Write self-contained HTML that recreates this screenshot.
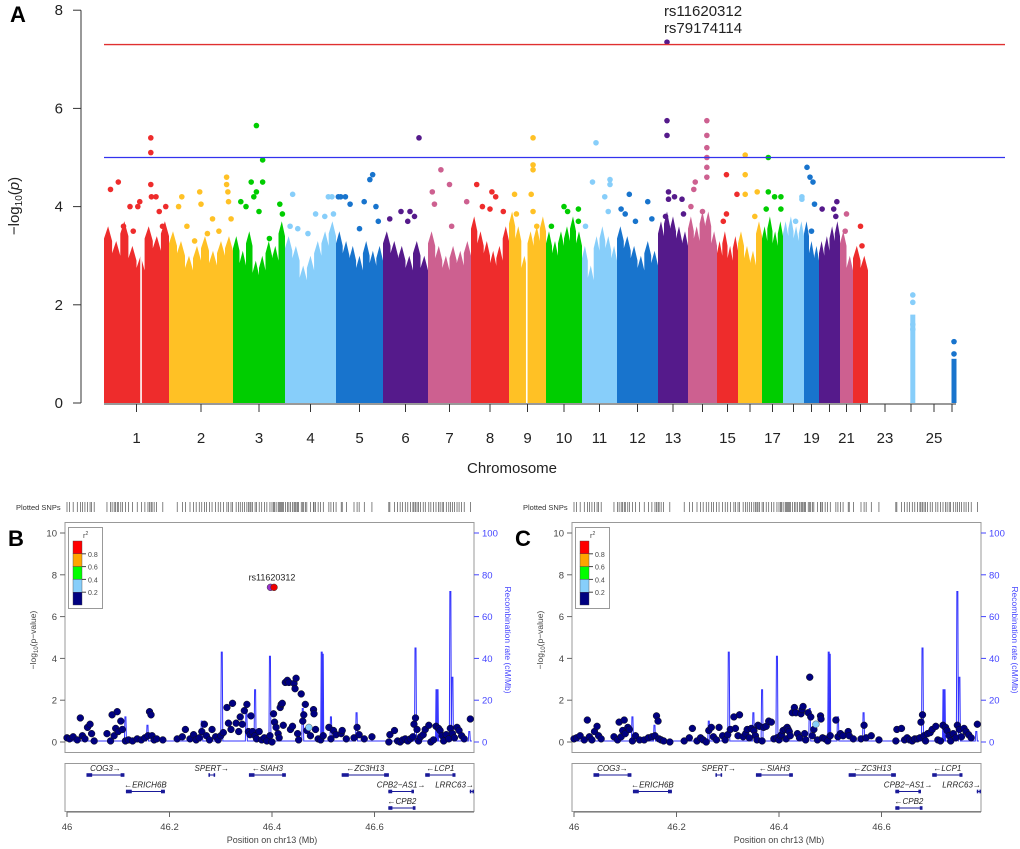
<!DOCTYPE html>
<html><head><meta charset="utf-8"><style>
html,body{margin:0;padding:0;background:#fff;}
svg{display:block;font-family:"Liberation Sans",Arial,sans-serif;}
</style></head><body>
<svg id="fig" width="1020" height="849" viewBox="0 0 1020 849" xmlns="http://www.w3.org/2000/svg">
<rect width="1020" height="849" fill="#fff"/>
<g id="panelA"></g>
<g id="panelB"></g>
<g id="panelC"></g>
</svg>
<script>
// ===== Panel A data =====
const chrNames = ["1","2","3","4","5","6","7","8","9","10","11","12","13","14","15","16","17","18","19","20","21","22","23","24","25","26"];
const chrLenMb = [260,256,208,204,188,180,172,152,148,144,140,164,120,116,84,96,84,84,60,84,52,60,136,72,112,32];
const chrTop = [
[3.6,3.3,3.7,3.2,3.0,3.6,3.4,3.7],[3.5,3.3,3.0,3.2,3.4,3.1,3.3,3.4],[3.4,3.1,3.5,2.9,3.0,3.3,3.2,3.7],
[3.4,3.2,2.8,3.0,3.3,3.5,3.7],[3.5,3.3,3.2,3.0,3.3,3.1,3.2],[3.5,3.3,3.2,3.0,3.3,3.0],[3.5,3.2,3.0,3.2,3.1,3.3],
[3.8,3.5,3.3,3.1,3.2,3.6],[3.9,3.6,3.0,3.5,3.6,3.8],[3.5,3.3,3.5,3.6,3.8,3.5],[3.2,2.8,3.4,3.6,3.4,3.2],
[3.6,3.4,3.2,3.0,3.3,3.1],[3.7,3.9,3.8,3.6,3.5],[3.8,3.6,3.9,3.9,3.5],[3.3,3.5,3.2,3.4],[3.5,3.2,3.1,3.7],
[3.6,3.8,3.5,3.7],[3.7,3.8,3.6,3.7],[3.7,3.3,3.2],[3.3,3.4,3.6,3.7],[3.5,3.0],[3.2,3.0],[],[1.8],[],[0.9]];
const chrColFrac = [null,null,null,null,null,null,null,null,null,null,null,null,null,null,null,null,null,null,null,null,null,null,null,0.6,null,0.75];
const chrGaps = [[0,0.57],[8,0.48]];
const yTicksA = [0,2,4,6,8];
const xLabelShown = ["1","2","3","4","5","6","7","8","9","10","11","12","13","15","17","19","21","23","25"];
const suggestiveLine = 5;
const genomeLine = 7.3;
// [chromosome index, fraction along chromosome, -log10 p]
const aPoints = [
[0,0.1,4.35],[0,0.22,4.5],[0,0.3,3.6],[0,0.4,4.0],[0,0.45,3.5],[0,0.55,4.1],[0,0.52,4.0],[0,0.72,5.4],[0,0.72,5.1],[0,0.72,4.45],[0,0.73,4.2],[0,0.8,4.2],[0,0.85,3.9],[0,0.95,4.0],[0,0.9,3.6],
[1,0.15,4.0],[1,0.2,4.2],[1,0.28,3.6],[1,0.4,3.3],[1,0.48,4.3],[1,0.5,4.05],[1,0.6,3.45],[1,0.68,3.75],[1,0.78,3.5],[1,0.9,4.6],[1,0.9,4.45],[1,0.92,4.3],[1,0.93,4.1],[1,0.97,3.75],
[2,0.15,4.1],[2,0.25,4.0],[2,0.35,4.5],[2,0.45,5.65],[2,0.45,4.3],[2,0.4,4.2],[2,0.57,4.95],[2,0.57,4.5],[2,0.5,3.9],[2,0.9,4.05],[2,0.95,3.85],[2,0.7,3.35],
[3,0.1,3.6],[3,0.15,4.25],[3,0.25,3.55],[3,0.45,3.45],[3,0.6,3.85],[3,0.78,3.8],[3,0.85,4.2],[3,0.92,4.2],[3,0.95,3.85],
[4,0.05,4.2],[4,0.1,4.2],[4,0.2,4.2],[4,0.3,4.05],[4,0.5,3.55],[4,0.6,4.1],[4,0.72,4.55],[4,0.78,4.65],[4,0.85,4.0],[4,0.9,3.7],
[5,0.15,3.75],[5,0.4,3.9],[5,0.6,3.9],[5,0.7,3.8],[5,0.8,5.4],[5,0.55,3.7],
[6,0.1,4.3],[6,0.15,4.05],[6,0.3,4.75],[6,0.5,4.45],[6,0.55,3.6],[6,0.9,4.1],
[7,0.15,4.45],[7,0.3,4.0],[7,0.5,3.95],[7,0.55,4.3],[7,0.65,4.2],[7,0.85,3.9],
[8,0.15,4.25],[8,0.2,3.85],[8,0.65,5.4],[8,0.65,4.85],[8,0.65,4.75],[8,0.6,4.25],[8,0.65,3.9],[8,0.75,3.6],
[9,0.15,3.6],[9,0.5,4.0],[9,0.6,3.9],[9,0.9,3.95],[9,0.9,3.7],
[10,0.1,3.6],[10,0.3,4.5],[10,0.4,5.3],[10,0.65,4.2],[10,0.8,4.55],[10,0.8,4.45],[10,0.75,3.9],
[11,0.1,3.95],[11,0.2,3.85],[11,0.3,4.25],[11,0.45,3.7],[11,0.75,4.1],[11,0.85,3.75],
[12,0.25,3.8],[12,0.3,7.35],[12,0.3,5.75],[12,0.3,5.45],[12,0.35,4.3],[12,0.35,4.15],[12,0.55,4.2],[12,0.8,4.15],[12,0.85,3.85],
[13,0.1,4.0],[13,0.2,4.35],[13,0.25,4.5],[13,0.65,5.75],[13,0.65,5.45],[13,0.65,5.2],[13,0.65,5.0],[13,0.65,4.8],[13,0.65,4.6],[13,0.5,3.9],
[14,0.3,3.7],[14,0.45,4.65],[14,0.45,3.85],[14,0.95,4.25],
[15,0.3,5.05],[15,0.3,4.65],[15,0.3,4.25],[15,0.8,4.3],[15,0.7,3.8],
[16,0.3,5.0],[16,0.3,4.3],[16,0.2,3.95],[16,0.6,4.2],[16,0.9,4.2],[16,0.9,3.95],
[17,0.9,4.2],[17,0.9,4.15],[17,0.6,3.7],
[18,0.2,4.8],[18,0.4,4.6],[18,0.6,4.5],[18,0.7,4.05],[18,0.5,3.5],
[19,0.15,3.95],[19,0.7,3.95],[19,0.85,4.1],[19,0.8,3.8],
[20,0.5,3.85],[20,0.4,3.5],
[21,0.5,3.6],[21,0.6,3.2],
[23,0.6,2.2],[23,0.6,2.05],[23,0.6,1.6],[23,0.6,1.5],
[25,0.75,1.25],[25,0.75,1.0]
];
const leadLabels = ["rs11620312","rs79174114"];
const chrColors = ["#EE2C2C","#FFC125","#00CD00","#87CEFA","#1874CD","#551A8B","#CD6090"];
function chrColor(i){ if(i===23) return "#87CEFA"; if(i===25) return "#1874CD"; return chrColors[i%7]; }

// ===== Panels B/C data =====
const regPosB = [46.0,46.005,46.012,46.02,46.026,46.03,46.035,46.04,46.045,46.048,46.053,46.078,46.085,46.088,46.092,46.095,46.098,46.1,46.105,46.108,46.114,46.12,46.128,46.137,46.145,46.152,46.158,46.161,46.164,46.166,46.17,46.175,46.187,
46.215,46.225,46.231,46.24,46.247,46.252,46.258,46.263,46.268,46.272,46.278,46.283,46.29,46.295,46.3,46.305,46.312,46.315,46.32,46.323,46.33,46.335,46.338,46.342,46.346,46.351,46.354,46.357,46.359,46.362,46.367,46.37,46.375,46.38,46.385,46.39,46.396,46.4,46.403,46.405,46.408,46.412,46.414,46.416,46.418,46.42,46.422,46.426,46.43,46.433,46.436,46.44,46.443,46.445,46.447,46.45,46.452,46.457,46.46,46.462,46.465,46.468,46.475,46.481,46.482,46.485,46.49,46.495,46.5,46.511,46.515,46.52,46.525,46.535,46.537,46.545,46.56,46.566,46.57,46.58,46.595,
46.628,46.63,46.639,46.645,46.65,46.655,46.66,46.665,46.67,46.675,46.677,46.68,46.683,46.686,46.69,46.695,46.699,46.706,46.71,46.715,46.72,46.725,46.728,46.732,46.735,46.74,46.745,46.748,46.752,46.756,46.761,46.765,46.77,46.775,46.787];
const regValB = [0.2,0.15,0.25,0.1,1.15,0.3,0.15,0.7,0.85,0.4,0.05,0.4,0.05,1.3,0.3,0.65,1.45,0.5,1.0,0.6,0.05,0.1,0.05,0.15,0.1,0.2,0.3,1.45,1.3,0.3,0.1,0.15,0.1,
0.15,0.25,0.6,0.15,0.35,0.1,0.2,0.5,0.85,0.3,0.1,0.6,0.25,0.1,0.3,0.45,1.65,0.9,0.6,1.85,0.9,0.5,1.2,0.85,1.5,1.8,0.5,0.35,1.25,0.5,0.3,0.15,0.5,0.1,0.2,0.05,0.3,0.0,1.35,0.95,0.7,0.4,0.2,1.65,1.8,1.85,0.8,2.85,2.95,2.85,0.6,0.75,2.8,2.55,3.05,0.4,0.1,2.3,1.0,1.3,1.8,0.55,0.3,1.55,1.35,0.6,0.15,0.1,0.3,0.7,0.15,0.55,0.35,0.4,0.55,0.15,0.2,0.7,0.35,0.15,0.25,
0.0,0.35,0.55,0.05,0.0,0.1,0.15,0.05,0.15,0.25,0.85,1.15,0.6,0.05,0.25,0.35,0.6,0.8,0.0,0.1,0.75,0.65,0.55,0.3,0.05,0.35,0.15,0.65,0.4,0.2,0.7,0.55,0.3,0.15,1.1];
const regValC = [0.15,0.2,0.3,0.1,1.05,0.25,0.1,0.5,0.75,0.3,0.15,0.25,0.1,0.95,0.25,0.55,1.05,0.4,0.7,0.6,0.05,0.3,0.1,0.1,0.2,0.25,0.3,1.25,1.0,0.15,0.1,0.05,0.0,
0.05,0.2,0.65,0.05,0.2,0.1,0.0,0.55,0.7,0.25,0.1,0.7,0.3,0.1,0.35,0.6,1.2,0.65,0.3,1.3,0.25,0.4,0.6,0.2,0.65,0.55,0.3,0.1,0.8,0.75,0.05,0.7,0.75,1.0,0.95,0.15,0.2,0.1,0.3,0.35,0.55,0.6,0.15,0.7,0.6,0.5,0.3,1.4,1.65,1.4,0.4,0.2,1.35,1.55,1.7,0.4,0.1,1.4,3.1,1.2,0.3,0.6,0.1,1.25,1.1,0.2,0.15,0.05,0.3,1.05,0.25,0.4,0.3,0.5,0.3,0.15,0.15,0.8,0.2,0.3,0.1,
0.05,0.6,0.65,0.1,0.2,0.1,0.05,0.15,0.15,0.2,0.95,1.3,0.3,0.05,0.4,0.45,0.6,0.75,0.1,0.05,0.8,0.7,0.55,0.3,0.05,0.4,0.2,0.8,0.6,0.25,0.65,0.5,0.35,0.2,0.85];
const leadPos = [46.397,46.404];
const leadVal = [7.4,7.4];
const leadCol = ["#9932CC","#EE0000"];
const lightPosB = 46.472, lightValB = 0.7;
const lightPosC = 46.472, lightValC = 0.85;
const recPos = [46.114,46.157,46.263,46.302,46.35,46.367,46.396,46.46,46.497,46.499,46.515,46.565,46.68,46.721,46.723,46.748,46.752,46.785];
const recRate = [12,8,10,43,14,25,41,16,43,42,12,14,45,25,25,72,31,5];
const regYTicks = [0,2,4,6,8,10];
const recTicks = [0,20,40,60,80,100];
const posTicks = [46,46.2,46.4,46.6];
const geneNames = ["COG3","ERICH6B","SPERT","SIAH3","ZC3H13","LCP1","CPB2-AS1","LRRC63","CPB2"];
const geneStart = [46.038,46.115,46.276,46.355,46.536,46.699,46.627,46.786,46.627];
const geneEnd = [46.112,46.191,46.289,46.427,46.628,46.758,46.677,46.794,46.68];
const geneStrand = [1,-1,1,-1,-1,-1,1,1,-1];
const geneRow = [0,1,0,0,0,0,1,1,2];
const legendBreaks = ["0.8","0.6","0.4","0.2"];
const legendCols = ["#FF0000","#FFA500","#00FF00","#87CEFA","#000080"];

const NS="http://www.w3.org/2000/svg";
function mk(parent,tag,attrs,text){const e=document.createElementNS(NS,tag);for(const k in attrs)e.setAttribute(k,attrs[k]);if(text!==undefined)e.textContent=text;parent.appendChild(e);return e;}

// ===== Draw Panel A =====
(function(){
const g=document.getElementById('panelA');
const x0=104, pxPerMb=0.25, yBase=403, pxPerUnit=49.1;
const yA=v=>yBase-v*pxPerUnit;
const starts=[];let acc=x0;
chrLenMb.forEach(l=>{starts.push(acc);acc+=l*pxPerMb;});
const xA=(i,f)=>starts[i]+f*chrLenMb[i]*pxPerMb;
let t=mk(g,'text',{x:10,y:22,'font-size':22,'font-weight':'bold'},'A');

let ax=mk(g,'line',{x1:81,x2:81,y1:yA(0),y2:yA(8),stroke:'#333','stroke-width':1});

yTicksA.forEach(v=>{
 mk(g,'line',{x1:73,x2:81,y1:yA(v),y2:yA(v),stroke:'#333'});
 const l=mk(g,'text',{x:63,y:yA(v)+5,'font-size':15,'text-anchor':'end',fill:'#222'},String(v));
 
});
const yt=mk(g,'text',{x:0,y:0,'font-size':15,'text-anchor':'middle',transform:'translate(19,206) rotate(-90)',fill:'#222'});

yt.innerHTML='\u2212log<tspan font-size="10" dy="3">10</tspan><tspan dy="-3">(</tspan><tspan font-style="italic">p</tspan>)';
chrNames.forEach((n,i)=>{
 const tops=chrTop[i];
 if(!tops.length) return;
 if(chrColFrac[i]!==null){
  const r=mk(g,'rect',{x:xA(i,chrColFrac[i])-2.5,y:yA(tops[0]),width:5,height:tops[0]*pxPerUnit,fill:chrColor(i)});
  
  return;
 }
 let pts=[[xA(i,0),yA(0)]];
 const k=tops.length;
 tops.forEach((v,j)=>{
  const f0=j/k, f1=(j+1)/k;
  pts.push([xA(i,f0),yA(v-0.25)]);
  pts.push([xA(i,(f0+f1)/2),yA(v)]);
  pts.push([xA(i,f1),yA(v-0.3)]);
 });
 pts.push([xA(i,1),yA(0)]);
 const p=mk(g,'polygon',{points:pts.map(q=>q[0].toFixed(1)+','+q[1].toFixed(1)).join(' '),fill:chrColor(i)});
 
});
chrGaps.forEach(gp=>{mk(g,'rect',{x:xA(gp[0],gp[1])-0.8,y:yA(3.0),width:1.6,height:3.0*pxPerUnit,fill:'#fff'});});
aPoints.forEach(p=>{
 const c=mk(g,'circle',{cx:xA(p[0],p[1]),cy:yA(p[2]),r:2.8,fill:chrColor(p[0])});
 
});
let rl=mk(g,'line',{x1:104,x2:1005,y1:yA(genomeLine),y2:yA(genomeLine),stroke:'#E03030','stroke-width':1.3});

let bl=mk(g,'line',{x1:104,x2:1005,y1:yA(suggestiveLine),y2:yA(suggestiveLine),stroke:'#3333EE','stroke-width':1.3});

leadLabels.forEach((s,k)=>{const l=mk(g,'text',{x:703,y:16+k*17,'font-size':15,'text-anchor':'middle',fill:'#222'},s);
 });
let xl=mk(g,'line',{x1:starts[0],x2:acc,y1:yBase+1,y2:yBase+1,stroke:'#333'});

chrNames.forEach((n,i)=>{
 const cx=xA(i,0.5);
 mk(g,'line',{x1:cx,x2:cx,y1:yBase+1,y2:yBase+9,stroke:'#333'});
 if(xLabelShown.includes(n)){const l=mk(g,'text',{x:cx,y:443,'font-size':15,'text-anchor':'middle',fill:'#222'},n);
 }
});
const xt=mk(g,'text',{x:512,y:473,'font-size':15,'text-anchor':'middle',fill:'#222'},'Chromosome');

})();

// ===== Regional panels =====
function regional(gid,off,letter,vals,showLead,lightPos,lightVal){
const g=document.getElementById(gid);
const L=65+off,R=474+off;
const xR=p=>67+off+(p-46)*512.5;
const yR=v=>742-v*20.9;
const yRec=r=>742-r*2.09;
const lab=mk(g,'text',{x:8+off,y:546,'font-size':22,'font-weight':'bold'},letter);

const ps=mk(g,'text',{x:16+off,y:510,'font-size':7.5,fill:'#333'},'Plotted SNPs');

regPosB.forEach(p=>{const tk=mk(g,'line',{x1:xR(p),x2:xR(p),y1:502,y2:512,stroke:'#333','stroke-width':0.6});
 });
const bx=mk(g,'rect',{x:L,y:522.5,width:R-L,height:230,fill:'none',stroke:'#999','stroke-width':1});

regYTicks.forEach(v=>{mk(g,'line',{x1:L-5,x2:L,y1:yR(v),y2:yR(v),stroke:'#666'});
 const l=mk(g,'text',{x:L-8,y:yR(v)+3.5,'font-size':9.5,'text-anchor':'end',fill:'#444'},String(v));
 });
const yt=mk(g,'text',{x:0,y:0,'font-size':8.5,'text-anchor':'middle',fill:'#444',transform:`translate(${36+off},640) rotate(-90)`});
yt.innerHTML='\u2212log<tspan font-size="6" dy="2">10</tspan><tspan dy="-2">(p\u2212value)</tspan>';

recTicks.forEach(v=>{mk(g,'line',{x1:R,x2:R+5,y1:yRec(v),y2:yRec(v),stroke:'#4444FF'});
 const l=mk(g,'text',{x:R+8,y:yRec(v)+3.5,'font-size':9.5,fill:'#4444FF'},String(v));
 });
const rt=mk(g,'text',{x:0,y:0,'font-size':8.5,'text-anchor':'middle',fill:'#4444FF',transform:`translate(${505+off},640) rotate(90)`},'Recombination rate (cM/Mb)');

let d='M'+xR(46)+','+yRec(0.5);
recPos.forEach((p,i)=>{d+=` L${xR(p)-1},${yRec(0.5)} L${xR(p)-0.5},${yRec(recRate[i])} L${xR(p)+0.5},${yRec(recRate[i])} L${xR(p)+1},${yRec(0.5)}`;});
d+=` L${xR(46.79)},${yRec(0.5)}`;
const rl=mk(g,'path',{d:d,fill:'none',stroke:'#3333FF','stroke-width':1});

regPosB.forEach((p,i)=>{const c=mk(g,'circle',{cx:xR(p),cy:yR(vals[i]),r:3.4,fill:'#000080',stroke:'#111','stroke-width':0.5});
 });
const lc=mk(g,'circle',{cx:xR(lightPos),cy:yR(lightVal),r:3.4,fill:'#87CEFA',stroke:'#555','stroke-width':0.5});

if(showLead){
 leadPos.forEach((p,i)=>{const c=mk(g,'circle',{cx:xR(p),cy:yR(leadVal[i]),r:3.4,fill:leadCol[i],stroke:'#333','stroke-width':0.5});
 });
 const t=mk(g,'text',{x:xR(46.4),y:yR(leadVal[0])-7,'font-size':9,'text-anchor':'middle',fill:'#222'},'rs11620312');
 
}
const lg=mk(g,'g',{});
mk(lg,'rect',{x:68.5+off,y:527.5,width:34,height:81,fill:'#fff',stroke:'#999'});
const r2=mk(lg,'text',{x:83+off,y:538,'font-size':7.5,fill:'#444'});r2.innerHTML='r<tspan font-size="5" dy="-3">2</tspan>';
legendCols.forEach((c,i)=>{mk(lg,'rect',{x:73+off,y:541+i*12.8,width:9,height:12.8,fill:c,stroke:'#444','stroke-width':0.4});});
legendBreaks.forEach((s,i)=>{const y=553.8+i*12.8;mk(lg,'line',{x1:82+off,x2:86+off,y1:y,y2:y,stroke:'#444'});
 mk(lg,'text',{x:88+off,y:y+3,'font-size':7,fill:'#444'},s);});
const gb=mk(g,'rect',{x:L,y:763.5,width:R-L,height:48,fill:'none',stroke:'#999'});

geneNames.forEach((n,i)=>{
 const y=775+geneRow[i]*16.5, x1=xR(geneStart[i]), x2=xR(geneEnd[i]);
 const gl=mk(g,'line',{x1:x1,x2:x2,y1:y,y2:y,stroke:'#1a1a99','stroke-width':1});
 
 mk(g,'rect',{x:x1,y:y-1.8,width:Math.max(1.5,(x2-x1)*0.15),height:3.6,fill:'#1a1a99'});
 mk(g,'rect',{x:x2-Math.max(1.5,(x2-x1)*0.1),y:y-1.8,width:Math.max(1.5,(x2-x1)*0.1),height:3.6,fill:'#1a1a99'});
 const label=geneStrand[i]>0?n.replace('-','\u2212')+'\u2192':'\u2190'+n;
 let lx=(x1+x2)/2, anchor='middle';
 if(n==='LRRC63'){lx=x2;anchor='end';}
 const tl=mk(g,'text',{x:lx,y:y-4,'font-size':8,'font-style':'italic','text-anchor':anchor,fill:'#222'},label);
 
});
mk(g,'line',{x1:xR(46),x2:R,y1:812,y2:812,stroke:'#666'});
posTicks.forEach(p=>{mk(g,'line',{x1:xR(p),x2:xR(p),y1:812,y2:817,stroke:'#666'});
 const l=mk(g,'text',{x:xR(p),y:830,'font-size':9.5,'text-anchor':'middle',fill:'#444'},String(p));
 });
const xt=mk(g,'text',{x:xR(46.4),y:843,'font-size':9,'text-anchor':'middle',fill:'#444'},'Position on chr13 (Mb)');

}
regional('panelB',0,'B',regValB,true,lightPosB,lightValB);
regional('panelC',507,'C',regValC,false,lightPosC,lightValC);
</script>
</body></html>
